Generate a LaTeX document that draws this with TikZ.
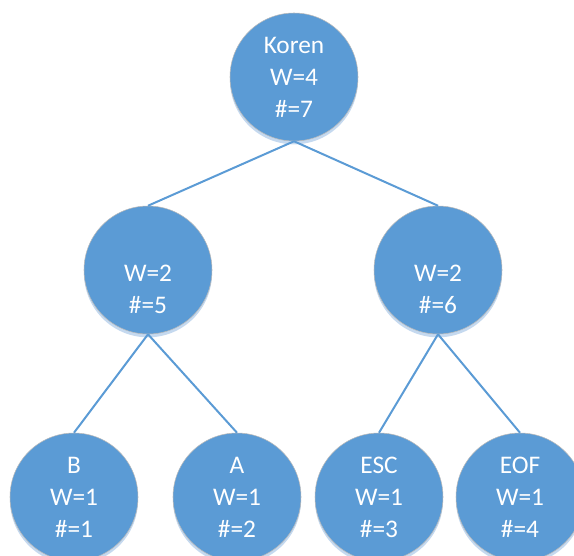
\documentclass[tikz,border=0pt]{standalone}
\usepackage{fontspec}
\setmainfont{Carlito}
\usetikzlibrary{shadows}
\definecolor{nodeblue}{HTML}{5B9BD5}
\definecolor{shadowblue}{HTML}{C5D9EF}
\begin{document}
\begin{tikzpicture}[x=0.75pt,y=-0.75pt,
  treenode/.style={circle, fill=nodeblue, draw=gray!55, line width=0.4pt,
    minimum size=96pt, inner sep=0pt, text=white, align=center,
    font=\fontsize{19}{24}\selectfont,
    drop shadow={shadow xshift=0pt, shadow yshift=-2.5pt, fill=shadowblue, opacity=1}},
  link/.style={draw=nodeblue, line width=1.5pt}]
  \useasboundingbox (0,0) rectangle (574,556);
  \clip (0,0) rectangle (574,556);

  % nodes
  \node[treenode] (root) at (294,77)  {Koren\\W=4\\\#=7};
  \node[treenode] (l)    at (148,270) {\strut\\W=2\\\#=5};
  \node[treenode] (r)    at (438,270) {\strut\\W=2\\\#=6};
  \node[treenode] (b)    at (74,497)  {B\\W=1\\\#=1};
  \node[treenode] (a)    at (237,497) {A\\W=1\\\#=2};
  \node[treenode] (esc)  at (379,497) {ESC\\W=1\\\#=3};
  \node[treenode] (eof)  at (520,497) {EOF\\W=1\\\#=4};

  % edges
  \draw[link] (root.south) -- (l.north);
  \draw[link] (root.south) -- (r.north);
  \draw[link] (l.south) -- (b.north);
  \draw[link] (l.south) -- (a.north);
  \draw[link] (r.south) -- (esc.north);
  \draw[link] (r.south) -- (eof.north);
\end{tikzpicture}
\end{document}
